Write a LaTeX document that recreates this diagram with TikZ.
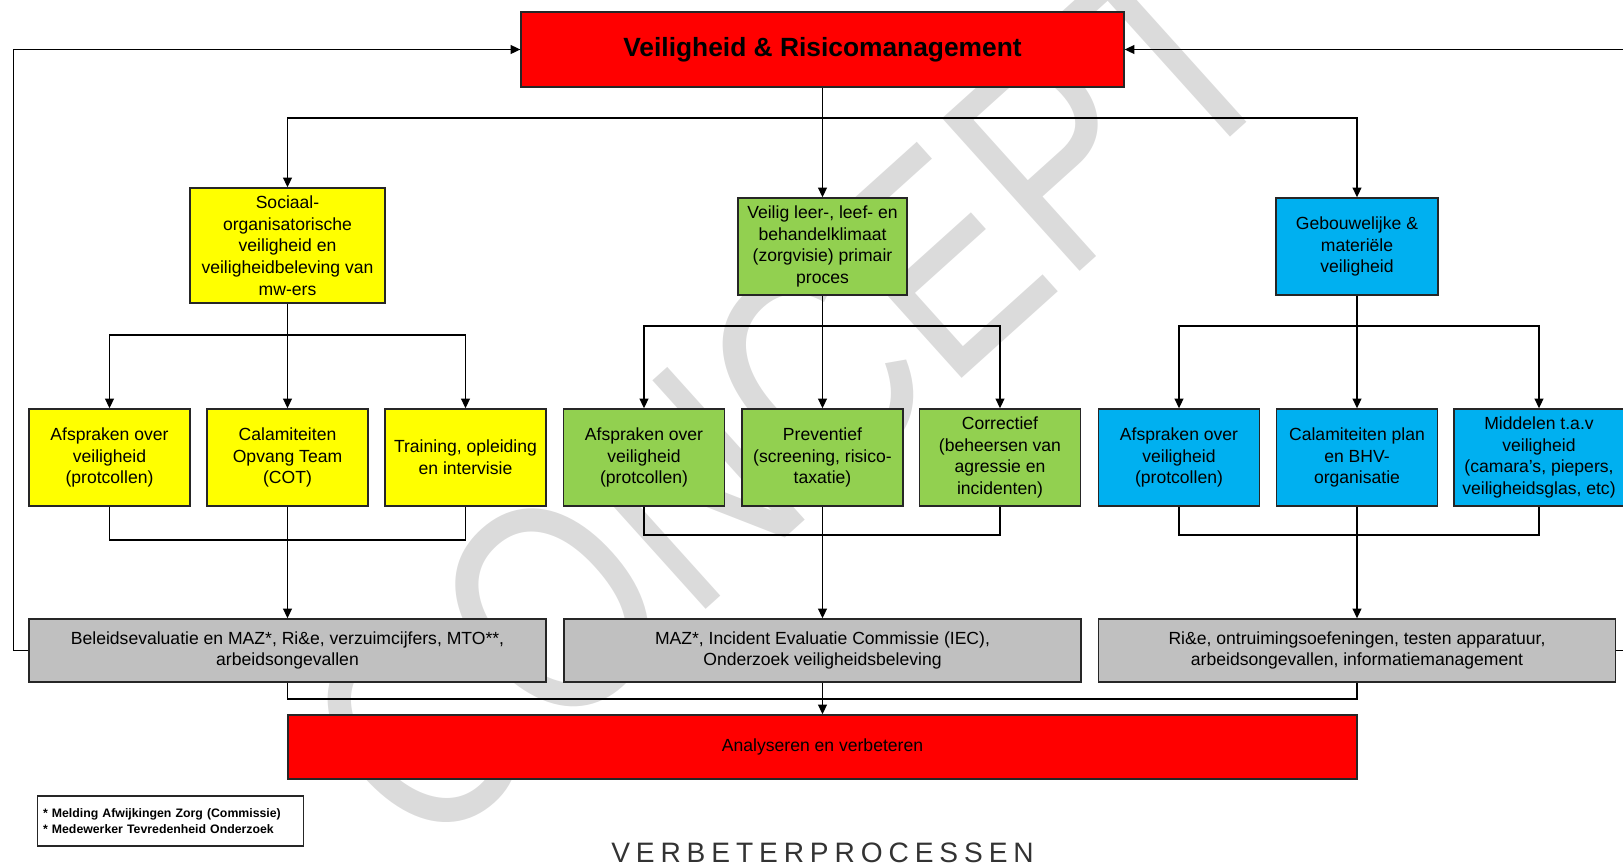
\documentclass[tikz,border=0pt]{standalone}
\usepackage{fontspec}
\setmainfont{Liberation Sans}
\newfontfamily\spacedfont[LetterSpace=21]{Liberation Sans}
\usetikzlibrary{arrows.meta}

\definecolor{vrred}{HTML}{FF0000}
\definecolor{vryellow}{HTML}{FFFF00}
\definecolor{vrgreen}{HTML}{92D050}
\definecolor{vrblue}{HTML}{00B0F0}
\definecolor{vrgray}{HTML}{C0C0C0}

\begin{document}
\begin{tikzpicture}[
            x=0.02cm, y=-0.02cm,
            box/.style={rectangle, draw=black!85, line width=0.8pt, align=center, inner sep=2pt, font=\fontsize{10}{12.4}\selectfont},
            main/.style={box, fill=vrred, minimum width=12.06cm, minimum height=1.5cm, font=\fontsize{15}{18}\selectfont\bfseries},
            social/.style={box, fill=vryellow},
            climate/.style={box, fill=vrgreen},
            building/.style={box, fill=vrblue},
            pillar/.style={minimum height=1.94cm},
            measure/.style={minimum width=3.22cm, minimum height=1.94cm},
            monitor/.style={box, fill=vrgray, minimum width=10.34cm, minimum height=1.26cm},
            arrow/.style={-{Triangle[length=5.5pt, width=5pt]}, line width=0.8pt},
            link/.style={line width=0.8pt}
            ]
            \useasboundingbox (0,0) rectangle (1623,866);

            % Watermark
            \node[rotate=42, text=black!14, font=\fontsize{170}{170}\selectfont] (stamp) at (790,395) {\scalebox{0.8}[1]{CONCEPT}};

            % Main box
            \node[main] (veil) at (822.5,49.5) {Veiligheid \& Risicomanagement};

            % Pillars
            \node[social, minimum width=3.9cm, minimum height=2.3cm] (soc) at (287.5,245.5) {Sociaal-\\organisatorische\\veiligheid en\\veiligheidbeleving van\\mw-ers};
            \node[climate, pillar, minimum width=3.38cm] (klimaat) at (822.5,246.5) {Veilig leer-, leef- en\\behandelklimaat\\(zorgvisie) primair\\proces};
            \node[building, pillar, minimum width=3.24cm] (gebouw) at (1357,246.5) {Gebouwelijke \&\\materiële\\veiligheid};

            % Measures
            \node[social, measure] (socA) at (109.5,457.5) {Afspraken over\\veiligheid\\(protcollen)};
            \node[social, measure] (socB) at (287.5,457.5) {Calamiteiten\\Opvang Team\\(COT)};
            \node[social, measure] (socC) at (465.5,457.5) {Training, opleiding\\en intervisie};
            \node[climate, measure] (kliA) at (644,457.5) {Afspraken over\\veiligheid\\(protcollen)};
            \node[climate, measure] (kliB) at (822.5,457.5) {Preventief\\(screening, risico-\\taxatie)};
            \node[climate, measure] (kliC) at (1000,457.5) {Correctief\\(beheersen van\\agressie en\\incidenten)};
            \node[building, measure] (gebA) at (1179,457.5) {Afspraken over\\veiligheid\\(protcollen)};
            \node[building, measure] (gebB) at (1357,457.5) {Calamiteiten plan\\en BHV-\\organisatie};
            \node[building, measure, minimum width=3.4cm] (gebC) at (1539,457.5) {Middelen t.a.v\\veiligheid\\(camara's, piepers,\\veiligheidsglas, etc)};

            % Evaluation
            \node[monitor] (evalS) at (287.5,650.5) {Beleidsevaluatie en MAZ*, Ri\&e, verzuimcijfers, MTO**,\\arbeidsongevallen};
            \node[monitor] (evalK) at (822.5,650.5) {MAZ*, Incident Evaluatie Commissie (IEC),\\Onderzoek veiligheidsbeleving};
            \node[monitor] (evalG) at (1357,650.5) {Ri\&e, ontruimingsoefeningen, testen apparatuur,\\arbeidsongevallen, informatiemanagement};

            % Result
            \node[box, fill=vrred, minimum width=21.38cm, minimum height=1.28cm] (analyse) at (822.5,747) {Analyseren en verbeteren};

            % Footnote and caption
            \node[draw=black!85, line width=0.8pt, minimum height=1cm, text width=5.1cm, align=left, inner sep=3pt, font=\fontsize{7}{9}\selectfont\bfseries] (note) at (170.5,821) {* Melding Afwijkingen Zorg (Commissie)\\** Medewerker Tevredenheid Onderzoek};
            \node[text=black!80, font=\spacedfont\fontsize{16}{18}\selectfont] (caption) at (822.5,853) {VERBETERPROCESSEN};

            % Bus coordinates
            \coordinate (busTop) at (822.5,118);
            \coordinate (busS) at (287.5,335);
            \coordinate (busK) at (822.5,326);
            \coordinate (busG) at (1357,326);
            \coordinate (joinS) at (287.5,540);
            \coordinate (joinK) at (822.5,535);
            \coordinate (joinG) at (1357,535);
            \coordinate (joinR) at (822.5,699);
            \coordinate (loopL) at (13.5,49.5);
            \coordinate (loopR) at (1650,49.5);

            % Arrows
            \draw[link] (veil) -- (busTop);
            \draw[arrow] (busTop) -| (soc);
            \draw[arrow] (busTop) -- (klimaat);
            \draw[arrow] (busTop) -| (gebouw);

            \draw[link] (soc) -- (busS);
            \draw[arrow] (busS) -| (socA);
            \draw[arrow] (busS) -- (socB);
            \draw[arrow] (busS) -| (socC);
            \draw[link] (klimaat) -- (busK);
            \draw[arrow] (busK) -| (kliA);
            \draw[arrow] (busK) -- (kliB);
            \draw[arrow] (busK) -| (kliC);
            \draw[link] (gebouw) -- (busG);
            \draw[arrow] (busG) -| (gebA);
            \draw[arrow] (busG) -- (gebB);
            \draw[arrow] (busG) -| (gebC);

            \draw[link] (socA) |- (joinS) -| (socC);
            \draw[arrow] (socB) -- (evalS);
            \draw[link] (kliA) |- (joinK) -| (kliC);
            \draw[arrow] (kliB) -- (evalK);
            \draw[link] (gebA) |- (joinG) -| (gebC);
            \draw[arrow] (gebB) -- (evalG);

            \draw[link] (evalS) |- (joinR) -| (evalG);
            \draw[arrow] (evalK) -- (analyse);

            \draw[arrow] (evalS.west) -| (loopL) -- (veil.west);
            \draw[arrow] (evalG.east) -| (loopR) -- (veil.east);

        \end{tikzpicture}
\end{document}
